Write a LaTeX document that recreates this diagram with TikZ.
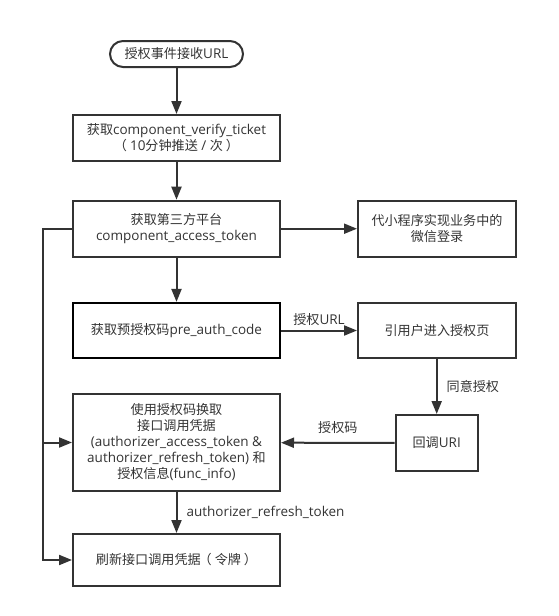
\documentclass[tikz,border=0pt]{standalone}
\usepackage{fontspec}
\setmainfont{Open Sans}
\newfontfamily\cjk{Noto Sans CJK SC}[Scale=0.97]
\newcommand{\zh}[1]{{\cjk #1}}
\newcommand{\gp}{\hspace{3pt}}
\usetikzlibrary{arrows.meta}
\definecolor{ink}{HTML}{333333}
\tikzset{
  box/.style={draw=ink, line width=2pt, minimum width=207pt, align=center, text=ink, font=\fontsize{13.5}{16}\selectfont, inner sep=2pt},
  rbox/.style={box, minimum width=158pt},
  conn/.style={draw=ink, line width=2pt, -{Triangle[length=13pt,width=10pt]}},
  lbl/.style={text=ink, font=\fontsize{13.5}{16}\selectfont, inner sep=1pt}
}
\begin{document}
\begin{tikzpicture}[x=1pt,y=-1pt]
\useasboundingbox (0,0) rectangle (558,616);
\node[box, minimum width=133pt, minimum height=26pt, rounded corners=13pt] (s) at (176.5,54) {\zh{授权事件接收}URL};
\node[box, minimum height=46pt] (b1) at (176.5,138) {\zh{获取}component\_verify\_ticket\\\zh{（}\gp 10\zh{分钟推送} / \zh{次}\gp\zh{）}};
\node[box, minimum height=56pt] (b2) at (176.5,228.7) {\zh{获取第三方平台}\\component\_access\_token};
\node[rbox, minimum height=56pt] (r1) at (437,228.7) {\zh{代小程序实现业务中的}\\\zh{微信登录}};
\node[box, minimum height=55pt, draw=black, line width=2.2pt] (b3) at (176.5,330.5) {\zh{获取预授权码}pre\_auth\_code};
\node[rbox, minimum height=55pt] (r2) at (437,330.5) {\zh{引用户进入授权页}};
\node[box, minimum height=97pt] (b4) at (176.5,442.5) {\zh{使用授权码换取}\\\zh{接口调用凭据}\\(authorizer\_access\_token \&\\authorizer\_refresh\_token) \zh{和}\\\zh{授权信息}(func\_info)};
\node[box, minimum width=82pt, minimum height=56pt] (u) at (436.7,443) {\zh{回调}URI};
\node[box, minimum height=52pt] (b5) at (176.5,560) {\zh{刷新接口调用凭据\hspace{-2pt}（}\gp\zh{令牌}\gp\zh{）}};
\coordinate (lt) at (42.7,228.7);
\coordinate (lm) at (42.7,442.5);
\draw[conn] (s) -- (b1);
\draw[conn] (b1) -- (b2);
\draw[conn] (b2) -- (r1);
\draw[conn] (b2) -- (b3);
\draw[conn] (b3) -- (r2) node[lbl, midway, above=3pt] {\zh{授权}URL};
\draw[conn] (r2.south -| u) -- (u) node[lbl, midway, right=8pt] {\zh{同意授权}};
\draw[conn] (u) -- (b4) node[lbl, midway, above=7pt] {\zh{授权码}};
\draw[conn] (b4) -- (b5) node[lbl, midway, right=8pt] {authorizer\_refresh\_token};
\draw[conn] (b2.west) -- (lt) |- (b5.west);
\draw[conn] (lm) -- (b4.west);
\end{tikzpicture}
\end{document}
